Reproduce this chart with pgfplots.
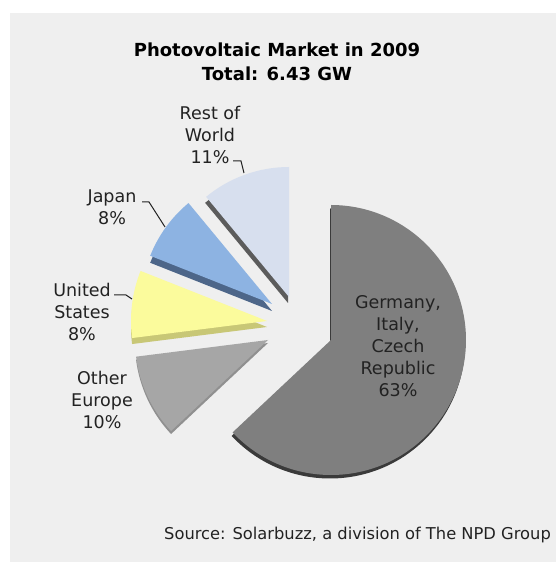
\documentclass[border=0pt]{standalone}
\usepackage{pgfplots}
\usepackage{pgfplotstable}
\pgfplotsset{compat=1.18}
\usepackage{fontspec}
\setmainfont{DejaVu Sans}

\definecolor{bg}{HTML}{EFEFEF}
\definecolor{ger}{HTML}{7F7F7F}
\definecolor{gerE}{HTML}{3A3A3A}
\definecolor{oeu}{HTML}{A6A6A6}
\definecolor{oeuE}{HTML}{909090}
\definecolor{usa}{HTML}{FBFB9C}
\definecolor{usaE}{HTML}{C8C776}
\definecolor{jap}{HTML}{8DB3E2}
\definecolor{japE}{HTML}{4D6689}
\definecolor{row}{HTML}{D7DFEE}
\definecolor{rowE}{HTML}{5C5C5C}
\definecolor{txt}{HTML}{222222}

% market shares in percent, clockwise from the top
\pgfplotstableread{
region share
Germany 63
OtherEurope 10
UnitedStates 8
Japan 8
RestOfWorld 11
}\shares

\pgfmathsetmacro\aO{90}
\pgfplotstablegetelem{0}{share}\of\shares
\pgfmathsetmacro\aI{\aO-3.6*\pgfplotsretval}
\pgfplotstablegetelem{1}{share}\of\shares
\pgfmathsetmacro\aII{\aI-3.6*\pgfplotsretval}
\pgfplotstablegetelem{2}{share}\of\shares
\pgfmathsetmacro\aIII{\aII-3.6*\pgfplotsretval}
\pgfplotstablegetelem{3}{share}\of\shares
\pgfmathsetmacro\aIV{\aIII-3.6*\pgfplotsretval}
\pgfplotstablegetelem{4}{share}\of\shares
\pgfmathsetmacro\aV{\aIV-3.6*\pgfplotsretval}

% slice: vertex x, vertex y, radius, from angle, to angle
\newcommand\pieslice[5]{(axis cs:#1,#2) -- ++(#4:#3pt) arc[start angle=#4,end angle=#5,radius=#3pt] -- cycle}

\begin{document}
\begin{tikzpicture}
\begin{axis}[
  hide axis, scale only axis,
  width=555pt, height=562pt,
  xmin=0, xmax=555, ymin=0, ymax=562,
  clip=false,
  ]
\addplot[draw=none] coordinates {(0,0) (555,562)};

\fill[white] (axis cs:0,-30) rectangle (axis cs:555,562);
\fill[bg] (axis cs:10,-30) rectangle (axis cs:585,549);

% side faces
\fill[gerE, yshift=-3.5pt, xshift=-1pt] \pieslice{331}{222}{135}{\aI}{\aO};
\fill[oeuE, yshift=-3pt] \pieslice{268}{222}{133}{\aII}{\aI};
\fill[usaE, yshift=-6pt] \pieslice{267}{241}{136}{\aIII}{\aII};
\fill[japE, yshift=-7pt] \pieslice{272}{258}{131}{\aIV}{\aIII};
\fill[rowE, yshift=-6pt, xshift=-1pt] \pieslice{289}{265}{130}{\aV}{\aIV};

% top faces
\fill[ger] \pieslice{331}{222}{135}{\aI}{\aO};
\fill[oeu] \pieslice{268}{222}{133}{\aII}{\aI};
\fill[usa] \pieslice{267}{241}{136}{\aIII}{\aII};
\fill[jap] \pieslice{272}{258}{131}{\aIV}{\aIII};
\fill[row] \pieslice{289}{265}{130}{\aV}{\aIV};

% leader lines
\draw[txt, line width=1pt] (axis cs:233,401) -- (axis cs:241,401) -- (axis cs:244,389);
\draw[txt, line width=1pt] (axis cs:142,360) -- (axis cs:149,360) -- (axis cs:165,335);
\draw[txt, line width=1pt] (axis cs:114,267) -- (axis cs:126,267) -- (axis cs:132,263);

% labels
\begin{scope}[every node/.style={align=center, text=txt, font=\fontsize{17.5}{22}\selectfont}]
\node at (axis cs:210,427) {Rest of\\World\\11\%};
\node at (axis cs:112,354.5) {Japan\\8\%};
\node at (axis cs:82,250) {United\\States\\8\%};
\node at (axis cs:102,162) {Other\\Europe\\10\%};
\node at (axis cs:398,215.5) {Germany,\\Italy,\\Czech\\Republic\\63\%};
\end{scope}

\node[align=center, text=black, font=\bfseries\fontsize{18}{24}\selectfont] at (axis cs:277,500) {Photovoltaic Market in 2009\\Total: 6.43 GW};
\node[text=txt, font=\fontsize{16.3}{20}\selectfont] at (axis cs:357.5,27) {Source: Solarbuzz, a division of The NPD Group};
\end{axis}
\pgfresetboundingbox
\path (current axis.south west) rectangle (current axis.north east);
\end{tikzpicture}
\end{document}
